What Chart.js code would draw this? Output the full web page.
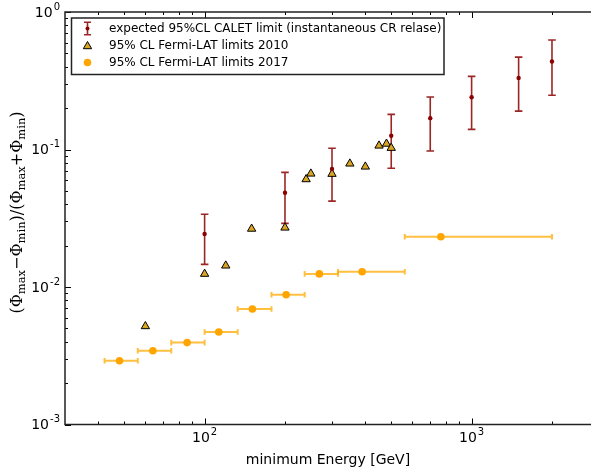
<!DOCTYPE html>
<html>
<head>
<meta charset="utf-8">
<script src="https://cdn.jsdelivr.net/npm/chart.js@4.4.0/dist/chart.umd.min.js"></script>
<style>
  html, body { margin: 0; padding: 0; background: #fff; overflow: hidden; }
</style>
</head>
<body>
<canvas id="grafico" width="591" height="474"></canvas>
<script>
// CALET esperado 95%CL: energia, valor, limite inferior e superior
var calEnergia = [100, 200, 300, 500, 700, 1000, 1500, 2000];
var calValor = [0.0243, 0.0485, 0.0721, 0.126, 0.169, 0.24, 0.331, 0.437];
var calInf = [0.0146, 0.029, 0.0421, 0.073, 0.0975, 0.14, 0.19, 0.248];
var calSup = [0.0338, 0.0682, 0.102, 0.18, 0.241, 0.34, 0.47, 0.625];

// Fermi-LAT 2010
var f10Energia = [60, 100, 120, 150, 200, 240, 250, 300, 350, 400, 450, 480, 500];
var f10Valor = [0.00518, 0.01245, 0.0143, 0.0265, 0.027, 0.0607, 0.0667, 0.0664, 0.0789, 0.075, 0.1066, 0.11, 0.1026];

// Fermi-LAT 2017 (com intervalo de energia)
var f17Energia = [48, 64, 86, 113, 151, 202, 269, 389, 767];
var f17Valor = [0.00291, 0.00344, 0.00394, 0.00471, 0.00692, 0.00879, 0.01245, 0.0129, 0.0232];
var f17Inf = [42.2, 56.2, 75, 100, 133, 178, 237, 316, 562];
var f17Sup = [56.2, 75, 100, 133, 178, 237, 316, 562, 2000];

// eixos
var xMin = 30, xMax = 2800;
var yMin = 0.001, yMax = 1;
var xMaiores = [100, 1000];
var xExpoentes = ["2", "3"];
var yMaiores = [0.001, 0.01, 0.1, 1];
var yExpoentes = ["-3", "-2", "-1", "0"];

var legendas = [
   "expected 95%CL CALET limit (instantaneous CR relase)",
   "95% CL Fermi-LAT limits 2010",
   "95% CL Fermi-LAT limits 2017",
];
var tituloX = "minimum Energy [GeV]";

var vermelho = "#8b0000";
var dourado = "#daa520";
var laranja = "#ffa500";

function pares(xs, ys) {
   return xs.map((x, i) => ({ x: x, y: ys[i] }));
}

function menores(min, max) {
   var lista = [];
   for (var d = 1e-4; d < 1e5; d *= 10) {
      for (var m = 2; m <= 9; m++) {
         var v = m * d;
         if (v > min * 1.0001 && v < max * 0.9999) lista.push(v);
      }
   }
   return lista;
}

function triangulo(ctx, x, y, r) {
   ctx.beginPath();
   ctx.moveTo(x, y - r);
   ctx.lineTo(x + r * 0.866, y + r * 0.5);
   ctx.lineTo(x - r * 0.866, y + r * 0.5);
   ctx.closePath();
   ctx.fillStyle = dourado;
   ctx.fill();
   ctx.strokeStyle = "#000";
   ctx.lineWidth = 1;
   ctx.stroke();
}

function barraVertical(ctx, x, y1, y2, cap) {
   ctx.beginPath();
   ctx.moveTo(x, y1);
   ctx.lineTo(x, y2);
   ctx.moveTo(x - cap, y1);
   ctx.lineTo(x + cap, y1);
   ctx.moveTo(x - cap, y2);
   ctx.lineTo(x + cap, y2);
   ctx.stroke();
}

function barraHorizontal(ctx, x1, x2, y, cap) {
   ctx.beginPath();
   ctx.moveTo(x1, y);
   ctx.lineTo(x2, y);
   ctx.moveTo(x1, y - cap);
   ctx.lineTo(x1, y + cap);
   ctx.moveTo(x2, y - cap);
   ctx.lineTo(x2, y + cap);
   ctx.stroke();
}

// texto "10^n"
function potencia(ctx, exp, x, y, alinhar) {
   ctx.font = "14px 'DejaVu Sans'";
   var wb = ctx.measureText("10").width;
   ctx.font = "10px 'DejaVu Sans'";
   var we = ctx.measureText(exp).width;
   var x0 = alinhar === "right" ? x - wb - we - 1 : x - (wb + we + 1) / 2;
   ctx.textAlign = "left";
   ctx.textBaseline = "middle";
   ctx.font = "14px 'DejaVu Sans'";
   ctx.fillText("10", x0, y);
   ctx.font = "10px 'DejaVu Sans'";
   ctx.fillText(exp, x0 + wb + 1, y - 6);
}

var desenhos = {
   id: "desenhos",
   beforeDatasetsDraw(chart) {
      var ctx = chart.ctx, xs = chart.scales.x, ys = chart.scales.y;
      ctx.save();
      ctx.strokeStyle = "rgba(139,0,0,0.85)";
      ctx.lineWidth = 1.6;
      calEnergia.forEach((e, i) => {
         barraVertical(ctx, xs.getPixelForValue(e),
            ys.getPixelForValue(calSup[i]), ys.getPixelForValue(calInf[i]), 3.8);
      });
      ctx.strokeStyle = "rgba(255,170,0,0.75)";
      ctx.lineWidth = 2;
      f17Energia.forEach((e, i) => {
         barraHorizontal(ctx, xs.getPixelForValue(f17Inf[i]),
            xs.getPixelForValue(f17Sup[i]), ys.getPixelForValue(f17Valor[i]), 2.8);
      });
      ctx.restore();
   },
   afterDraw(chart) {
      var ctx = chart.ctx, xs = chart.scales.x, ys = chart.scales.y;
      var a = chart.chartArea;
      ctx.save();
      ctx.fillStyle = "#000";

      // marcas dos eixos (para dentro)
      ctx.strokeStyle = "#000";
      ctx.lineWidth = 1;
      ctx.beginPath();
      xMaiores.forEach(v => {
         var p = Math.round(xs.getPixelForValue(v)) + 0.5;
         ctx.moveTo(p, a.bottom); ctx.lineTo(p, a.bottom - 6);
         ctx.moveTo(p, a.top); ctx.lineTo(p, a.top + 6);
      });
      menores(xMin, xMax).forEach(v => {
         var p = Math.round(xs.getPixelForValue(v)) + 0.5;
         ctx.moveTo(p, a.bottom); ctx.lineTo(p, a.bottom - 3);
         ctx.moveTo(p, a.top); ctx.lineTo(p, a.top + 3);
      });
      yMaiores.forEach(v => {
         var p = Math.round(ys.getPixelForValue(v)) + 0.5;
         ctx.moveTo(a.left, p); ctx.lineTo(a.left + 6, p);
      });
      menores(yMin, yMax).forEach(v => {
         var p = Math.round(ys.getPixelForValue(v)) + 0.5;
         ctx.moveTo(a.left, p); ctx.lineTo(a.left + 3, p);
      });
      ctx.stroke();

      // moldura
      ctx.strokeStyle = "#222";
      ctx.lineWidth = 1.5;
      ctx.beginPath();
      ctx.moveTo(a.right, a.top);
      ctx.lineTo(a.left, a.top);
      ctx.lineTo(a.left, a.bottom);
      ctx.lineTo(a.right, a.bottom);
      ctx.stroke();

      // rótulos
      xMaiores.forEach((v, i) => potencia(ctx, xExpoentes[i], xs.getPixelForValue(v), a.bottom + 14, "center"));
      yMaiores.forEach((v, i) => potencia(ctx, yExpoentes[i], a.left - 5, ys.getPixelForValue(v) + 1, "right"));

      ctx.font = "14px 'DejaVu Sans'";
      ctx.textAlign = "center";
      ctx.textBaseline = "middle";
      ctx.fillText(tituloX, (a.left + a.right) / 2, 460);

      // título do eixo y com subscritos
      var partes = [
         ["(\u03A6", 0], ["max", 1], ["\u2212\u03A6", 0], ["min", 1],
         [")/(\u03A6", 0], ["max", 1], ["+\u03A6", 0], ["min", 1], [")", 0],
      ];
      var fontes = ["16px 'DejaVu Serif'", "11.5px 'DejaVu Serif'"];
      var total = 0;
      partes.forEach(p => { ctx.font = fontes[p[1]]; total += ctx.measureText(p[0]).width; });
      ctx.translate(18, 212.5);
      ctx.rotate(-Math.PI / 2);
      ctx.textAlign = "left";
      var px = -total / 2;
      partes.forEach(p => {
         ctx.font = fontes[p[1]];
         ctx.fillText(p[0], px, p[1] ? 4 : 0);
         px += ctx.measureText(p[0]).width;
      });
      ctx.setTransform(1, 0, 0, 1, 0, 0);

      // legenda
      var lx = 71.5, ly = 18, lw = 372.5, lh = 56.5;
      ctx.fillStyle = "#fff";
      ctx.fillRect(lx, ly, lw, lh);
      ctx.strokeStyle = "#222";
      ctx.lineWidth = 1.5;
      ctx.strokeRect(lx, ly, lw, lh);
      var linhas = [28.5, 45.5, 62.5];
      ctx.strokeStyle = "rgba(139,0,0,0.85)";
      ctx.lineWidth = 1.6;
      barraVertical(ctx, 87.5, linhas[0] - 6.3, linhas[0] + 6.3, 3.5);
      ctx.fillStyle = vermelho;
      ctx.beginPath(); ctx.arc(87.5, linhas[0], 2, 0, Math.PI * 2); ctx.fill();
      triangulo(ctx, 87.5, linhas[1] + 0.8, 4.8);
      ctx.fillStyle = laranja;
      ctx.beginPath(); ctx.arc(87.5, linhas[2], 3.8, 0, Math.PI * 2); ctx.fill();
      ctx.fillStyle = "#000";
      ctx.font = "12px 'DejaVu Sans'";
      ctx.textAlign = "left";
      ctx.textBaseline = "middle";
      legendas.forEach((t, i) => ctx.fillText(t, 109, linhas[i] + 0.5));
      ctx.restore();
   },
};

var grafico = new Chart(document.getElementById("grafico").getContext("2d"), {
   type: "scatter",
   data: {
      datasets: [
         {
            label: legendas[0],
            data: pares(calEnergia, calValor),
            backgroundColor: vermelho,
            borderColor: vermelho,
            pointRadius: 2.2,
            pointBorderWidth: 0,
         },
         {
            label: legendas[1],
            data: pares(f10Energia, f10Valor),
            pointStyle: "triangle",
            backgroundColor: dourado,
            borderColor: "#000",
            pointBorderWidth: 1,
            pointRadius: 4.8,
         },
         {
            label: legendas[2],
            data: pares(f17Energia, f17Valor),
            backgroundColor: laranja,
            borderColor: laranja,
            pointBorderWidth: 0,
            pointRadius: 3.8,
         },
      ],
   },
   options: {
      responsive: false,
      animation: false,
      layout: { autoPadding: false, padding: { top: 12, left: 0, right: 0, bottom: 0 } },
      plugins: { legend: { display: false }, tooltip: { enabled: false } },
      scales: {
         x: {
            type: "logarithmic",
            min: xMin,
            max: xMax,
            grid: { display: false },
            border: { display: false },
            ticks: { display: false },
            afterBuildTicks: s => { s.ticks = xMaiores.map(v => ({ value: v })); },
            afterFit: s => { s.height = 49.5; },
         },
         y: {
            type: "logarithmic",
            min: yMin,
            max: yMax,
            grid: { display: false },
            border: { display: false },
            ticks: { display: false },
            afterBuildTicks: s => { s.ticks = yMaiores.map(v => ({ value: v })); },
            afterFit: s => { s.width = 65; },
         },
      },
   },
   plugins: [desenhos],
});
</script>
</body>
</html>
